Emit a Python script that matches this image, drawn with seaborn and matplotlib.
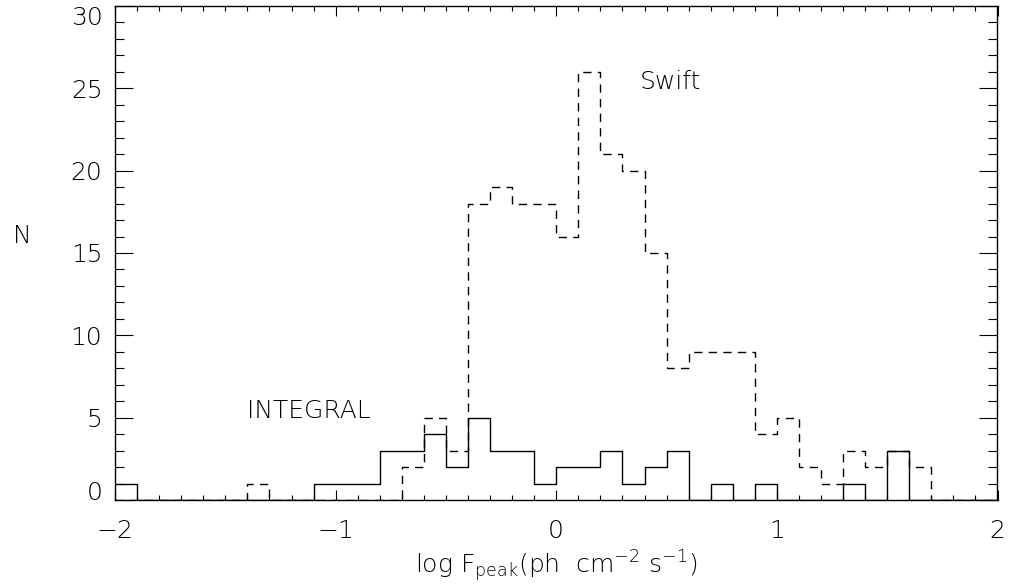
import numpy as np
import pandas as pd
import matplotlib
matplotlib.use("Agg")
import matplotlib.pyplot as plt
import seaborn as sns
from matplotlib.ticker import MultipleLocator

# ---- data (counts per 0.1-wide bin, left edges from -2.0 to 1.9) ----
bin_left = [-2.0, -1.9, -1.8, -1.7, -1.6, -1.5, -1.4, -1.3, -1.2, -1.1,
            -1.0, -0.9, -0.8, -0.7, -0.6, -0.5, -0.4, -0.3, -0.2, -0.1,
            0.0, 0.1, 0.2, 0.3, 0.4, 0.5, 0.6, 0.7, 0.8, 0.9,
            1.0, 1.1, 1.2, 1.3, 1.4, 1.5, 1.6, 1.7, 1.8, 1.9]
swift_counts = [0, 0, 0, 0, 0, 0, 1, 0, 0, 0,
                0, 0, 0, 2, 5, 3, 18, 19, 18, 18,
                16, 26, 21, 20, 15, 8, 9, 9, 9, 4,
                5, 2, 1, 3, 2, 3, 2, 0, 0, 0]
integral_counts = [1, 0, 0, 0, 0, 0, 0, 0, 0, 1,
                   1, 1, 3, 3, 4, 2, 5, 3, 3, 1,
                   2, 2, 3, 1, 2, 3, 0, 1, 0, 1,
                   0, 0, 0, 1, 0, 3, 0, 0, 0, 0]
bin_width = 0.1
x_ticks = [-2, -1, 0, 1, 2]
y_ticks = [0, 5, 10, 15, 20, 25, 30]

edges = [round(v, 2) for v in list(bin_left) + [bin_left[-1] + bin_width]]
centers = [round(v + bin_width / 2, 3) for v in bin_left]
df = pd.DataFrame({"x": centers, "swift": swift_counts, "integral": integral_counts})

sns.set_style("ticks")
plt.rcParams["font.family"] = ["DejaVu Sans"]
plt.rcParams["font.weight"] = "light"
plt.rcParams["axes.labelweight"] = "light"
plt.rcParams["mathtext.fontset"] = "custom"
plt.rcParams["mathtext.default"] = "regular"
plt.rcParams["mathtext.rm"] = "DejaVu Sans:light"

fig = plt.figure(figsize=(10.09, 5.85), dpi=100)
ax = fig.add_axes([115 / 1009, 1 - 500 / 585, (997.5 - 115) / 1009, (500 - 6) / 585])

sns.histplot(data=df, x="x", weights="swift", bins=edges, element="step",
             fill=False, color="black", linewidth=1.0, dashes=(6, 4.5), ax=ax)
sns.histplot(data=df, x="x", weights="integral", bins=edges, element="step",
             fill=False, color="black", linewidth=1.0, ax=ax)

ax.set_xlim(-2, 2)
ax.set_ylim(0, 30)
ax.set_xticks(x_ticks)
ax.set_yticks(y_ticks)
ax.xaxis.set_minor_locator(MultipleLocator(0.1))
ax.yaxis.set_minor_locator(MultipleLocator(1))
ax.set_xticklabels(["\u2212" + str(-t) if t < 0 else str(t) for t in x_ticks])

fs = 18
tc = "black"
ax.tick_params(axis="both", which="both", direction="in", top=True, right=True,
               color="black", width=0.8, labelsize=fs, labelcolor=tc)
ax.tick_params(axis="x", which="major", length=7, pad=14)
ax.tick_params(axis="x", which="minor", length=3.5)
ax.tick_params(axis="y", which="major", length=13, pad=9)
ax.tick_params(axis="y", which="minor", length=6.5)
for s in ax.spines.values():
    s.set_linewidth(1.0)
    s.set_color("black")

# keep the end labels inside the axis range (as in the reference)
fig.canvas.draw()
ylabels = ax.get_yticklabels()
ylabels[0].set_va("baseline")
ylabels[-1].set_va("top")

ax.set_xlabel(r"log F$_{peak}$(ph  cm$^{-2}$ s$^{-1}$)", fontsize=fs, color=tc,
              fontweight="light")
ax.xaxis.set_label_coords(0.5, -0.097)
ax.set_ylabel("N", rotation=0, fontsize=fs, color=tc, fontweight="light")
ax.yaxis.set_label_coords(-0.105, 0.51)

ax.text(0.38, 25.4, "Swift", fontsize=fs, va="center", ha="left", color=tc)
ax.text(-1.40, 5.4, "INTEGRAL", fontsize=fs, va="center", ha="left", color=tc)

fig.savefig("out.png", dpi=100)
